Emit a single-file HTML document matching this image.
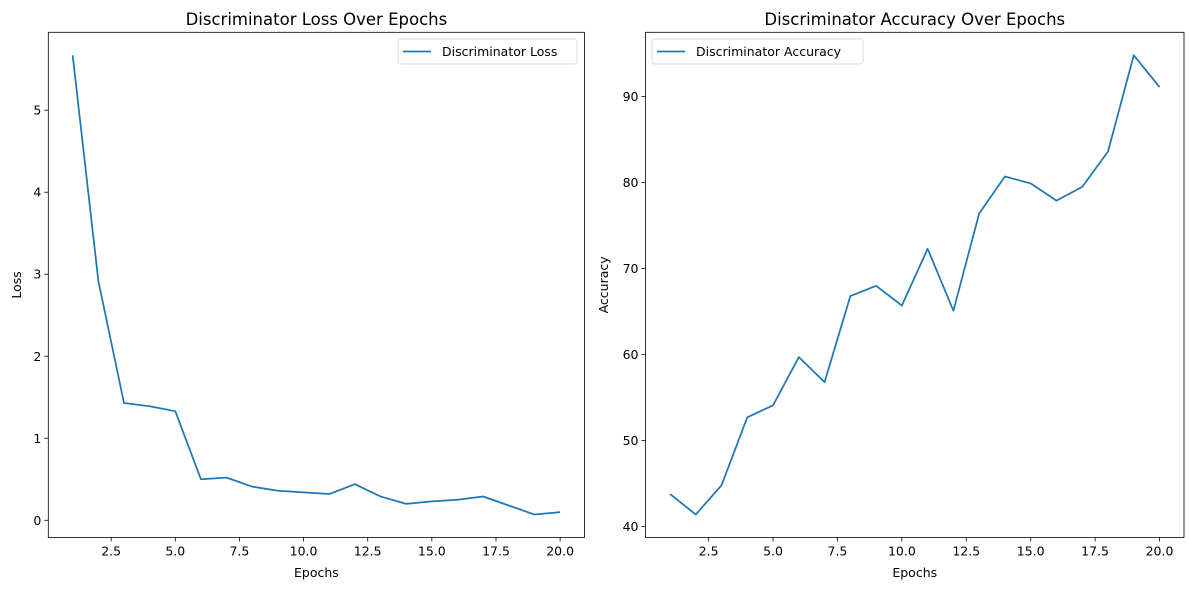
<!DOCTYPE html>
<html><head><meta charset="utf-8"><style>
body{margin:0;background:#fff;}
svg{display:block;font-family:"DejaVu Sans","Liberation Sans",sans-serif;}
</style></head><body>
<svg id="chart" width="1189" height="590" viewBox="0 0 1189 590" xmlns="http://www.w3.org/2000/svg"></svg>
<script>
const epochs=[1,2,3,4,5,6,7,8,9,10,11,12,13,14,15,16,17,18,19,20];
const lossValues=[5.67,2.92,1.43,1.39,1.33,0.50,0.52,0.41,0.36,0.34,0.32,0.44,0.29,0.20,0.23,0.25,0.29,0.18,0.07,0.10];
const accValues=[43.8,41.4,44.8,52.7,54.1,59.7,56.8,66.8,68.0,65.7,72.3,65.1,76.4,80.7,79.9,77.9,79.5,83.6,94.8,91.1];
const xTicks=[2.5,5.0,7.5,10.0,12.5,15.0,17.5,20.0];
const lossTicks=[0,1,2,3,4,5];
const accTicks=[40,50,60,70,80,90];

const NS="http://www.w3.org/2000/svg";
const svg=document.getElementById('chart');
function mk(tag,attrs,parent,text){const e=document.createElementNS(NS,tag);for(const k in attrs)e.setAttribute(k,attrs[k]);if(text!==undefined)e.textContent=text;(parent||svg).appendChild(e);return e;}

function panel(cfg){
  const g=mk('g',{});
  
  
  const L=cfg.left,R=cfg.right,T=32.3,B=537.5;
  const xmin=0.05,xmax=20.95;
  const sx=v=>L+(v-xmin)/(xmax-xmin)*(R-L);
  const dmin=Math.min(...cfg.values),dmax=Math.max(...cfg.values),pad=(dmax-dmin)*0.05;
  const ymin=dmin-pad,ymax=dmax+pad;
  const sy=v=>B-(v-ymin)/(ymax-ymin)*(B-T);
  xTicks.forEach(t=>{
    const x=sx(t);
    const tk=mk('line',{x1:x,x2:x,y1:B,y2:B+4,stroke:'#000','stroke-width':0.8},g);
    
    
    const lb=mk('text',{x:x,y:B+18,'font-size':12.5,'text-anchor':'middle',fill:'#000'},g,t.toFixed(1));
    
    
  });
  cfg.ticks.forEach(t=>{
    const y=sy(t);
    const tk=mk('line',{x1:L-4,x2:L,y1:y,y2:y,stroke:'#000','stroke-width':0.8},g);
    
    
    const lb=mk('text',{x:L-7,y:y+4.5,'font-size':12.5,'text-anchor':'end',fill:'#000'},g,String(t));
    
    
  });
  const pts=epochs.map((e,i)=>sx(e).toFixed(2)+','+sy(cfg.values[i]).toFixed(2)).join(' ');
  const pl=mk('polyline',{points:pts,fill:'none',stroke:'#1f77b4','stroke-width':1.75,'stroke-linejoin':'round'},g);
  
  
  const fr=mk('rect',{x:L,y:T,width:R-L,height:B-T,fill:'none',stroke:'#000','stroke-width':0.8},g);
  
  
  const ti=mk('text',{x:(L+R)/2,y:25,'font-size':16.5,'text-anchor':'middle',fill:'#000'},g,cfg.title);
  
  
  const xl=mk('text',{x:(L+R)/2,y:577,'font-size':12.5,'text-anchor':'middle',fill:'#000'},g,'Epochs');
  
  
  const yl=mk('text',{x:0,y:0,'font-size':12.5,'text-anchor':'middle',fill:'#000',transform:'translate('+cfg.ylx+','+((T+B)/2)+') rotate(-90)'},g,cfg.ylabel);
  
  
  const lg=mk('g',{},g);
  
  
  mk('rect',{x:cfg.legX,y:39,width:cfg.legW,height:25,rx:2.5,fill:'#fff',stroke:'#d0d0d0','stroke-width':0.8},lg);
  mk('line',{x1:cfg.legX+5,x2:cfg.legX+33,y1:51.5,y2:51.5,stroke:'#1f77b4','stroke-width':1.75},lg);
  mk('text',{x:cfg.legX+44,y:56,'font-size':12.5,fill:'#000'},lg,cfg.legText);
}
panel({name:'loss-panel',left:48.3,right:584.5,values:lossValues,ticks:lossTicks,title:'Discriminator Loss Over Epochs',ylabel:'Loss',ylx:21,seriesName:'loss-line',legX:398,legW:179,legText:'Discriminator Loss'});
panel({name:'accuracy-panel',left:645.5,right:1184,values:accValues,ticks:accTicks,title:'Discriminator Accuracy Over Epochs',ylabel:'Accuracy',ylx:608,seriesName:'accuracy-line',legX:652,legW:211,legText:'Discriminator Accuracy'});
</script>
</body></html>
